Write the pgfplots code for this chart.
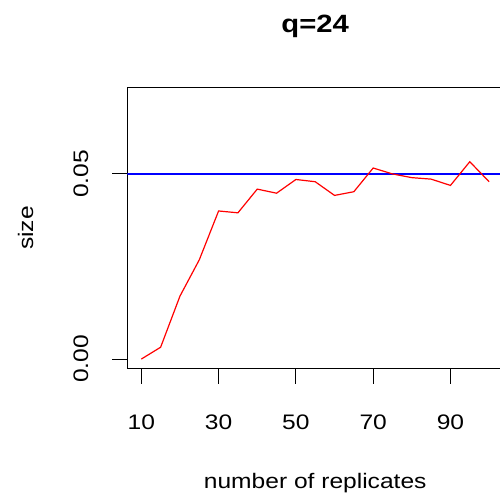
\documentclass[border=0pt]{standalone}
\usepackage{fontspec}
\setmainfont{Liberation Sans}[FakeStretch=1.17]
\usepackage{pgfplots}
\pgfplotsset{compat=1.18}
\pgfplotstableread{
x y
10 0.0000
15 0.0032
20 0.0170
25 0.0268
30 0.0400
35 0.0395
40 0.0459
45 0.0448
50 0.0485
55 0.0479
60 0.0442
65 0.0452
70 0.0516
75 0.0500
80 0.0490
85 0.0486
90 0.0469
95 0.0533
100 0.0479
}\sizedata
\begin{document}
\begin{tikzpicture}[x=1pt,y=1pt]
\useasboundingbox (0,0) rectangle (500,494);
\begin{axis}[
  at={(127.4pt,125.3pt)}, anchor=south west,
  scale only axis, width=375.6pt, height=281.4pt,
  xmin=6.4, xmax=103.6, ymin=-0.0026, ymax=0.0734,
  axis line style={line width=1.1pt},
  xtick={10,30,50,70,90}, xticklabels={10,30,50,70,90},
  ytick={0,0.05}, yticklabels={0.00,0.05},
  scaled y ticks=false,
  tick align=outside, tick pos=left,
  major tick length=15pt,
  every tick/.style={black, line width=1.1pt},
  tick label style={font=\fontsize{21}{25}\selectfont, inner sep=0pt},
  xticklabel style={anchor=base, yshift=-46.3pt},
  yticklabel style={xshift=-24.4pt, rotate=90, anchor=base},
  title={\textbf{q=24}},
  title style={font=\fontsize{25}{30}\selectfont, at={(axis description cs:0.5,1.1741)}, anchor=base, inner sep=0pt},
  xlabel={number of replicates},
  xlabel style={font=\fontsize{21}{25}\selectfont, at={(axis description cs:0.5,-0.4240)}, anchor=base, inner sep=0pt},
  ylabel={size},
  ylabel style={font=\fontsize{21}{25}\selectfont, at={(axis description cs:-0.2513,0.5)}, anchor=base, inner sep=0pt},
]
\addplot[blue, line width=1.2pt] coordinates {(6.4,0.05) (103.6,0.05)};
\addplot[red, line width=1.2pt] table[x=x,y=y] {\sizedata};
\end{axis}
\end{tikzpicture}
\end{document}
